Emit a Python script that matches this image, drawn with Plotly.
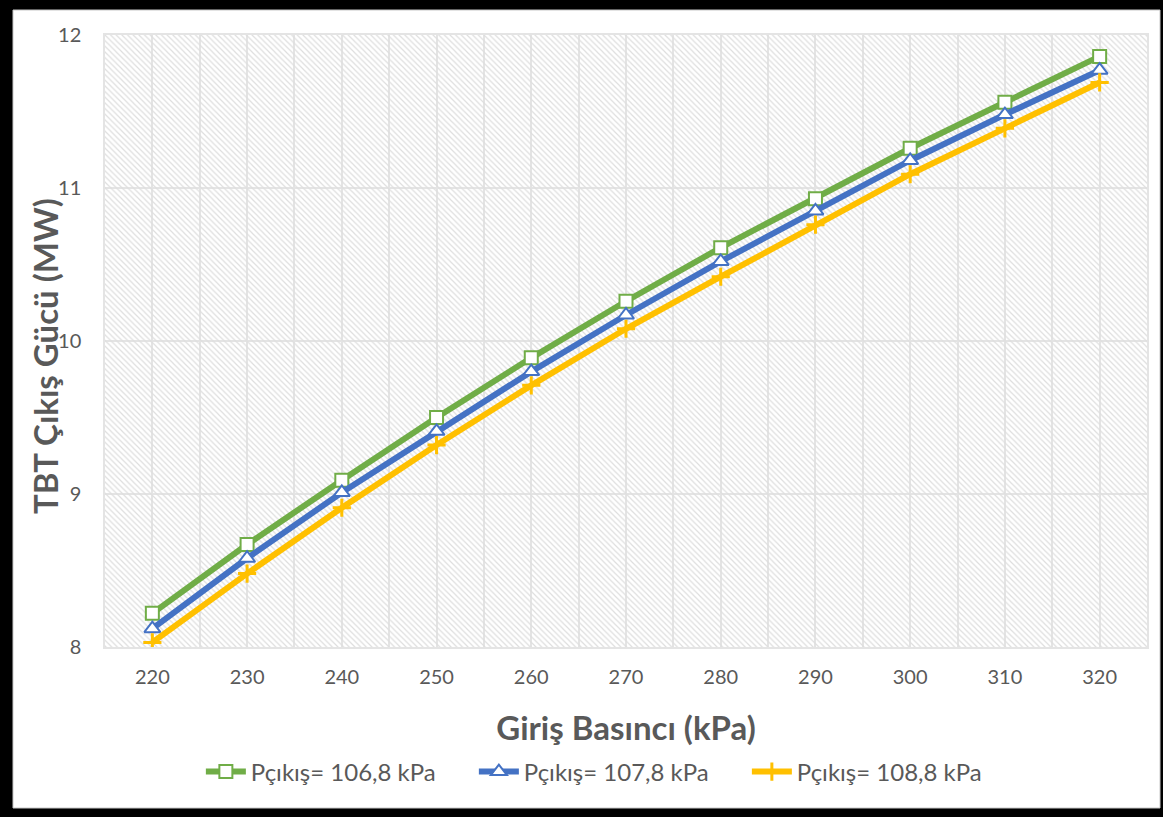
import plotly.graph_objects as go

# data
giris_basinci = [220, 230, 240, 250, 260, 270, 280, 290, 300, 310, 320]
guc_106_8 = [8.22, 8.67, 9.09, 9.50, 9.89, 10.26, 10.61, 10.93, 11.26, 11.56, 11.86]
guc_107_8 = [8.12, 8.58, 9.01, 9.41, 9.80, 10.17, 10.52, 10.85, 11.18, 11.48, 11.77]
guc_108_8 = [8.03, 8.48, 8.91, 9.32, 9.71, 10.08, 10.42, 10.76, 11.09, 11.39, 11.69]
series_names = ["Pçıkış= 106,8 kPa", "Pçıkış= 107,8 kPa", "Pçıkış= 108,8 kPa"]
y_ticks = [8, 9, 10, 11, 12]

W, H = 1163, 817
L, R, T, B = 105, 16, 35, 170
GRAY = "#595959"
FONT = "Lato"

step = giris_basinci[1] - giris_basinci[0]
x_lo = giris_basinci[0] - step / 2
x_hi = giris_basinci[-1] + step / 2
y_lo, y_hi = y_ticks[0], y_ticks[-1]
pw, ph = W - L - R, H - T - B


def px_x(px):
    return (px - L) / pw


def px_y(py):
    return (H - B - py) / ph


fig = go.Figure()

# hatched plot background
fig.add_trace(go.Bar(
    x=[(x_lo + x_hi) / 2], y=[y_hi - y_lo], base=[y_lo], width=[x_hi - x_lo],
    marker=dict(color="#dedede", line=dict(width=0),
                pattern=dict(shape="\\", size=4, solidity=0.3, fillmode="replace")),
    showlegend=False, hoverinfo="skip",
))

styles = [
    dict(color="#70AD47", symbol="square", size=13, mfill="white", mline=2),
    dict(color="#4472C4", symbol="triangle-up", size=14, mfill="white", mline=2),
    dict(color="#FFC000", symbol="cross-thin", size=13, mfill="#FFC000", mline=3),
]
for name, vals, st in zip(series_names, [guc_106_8, guc_107_8, guc_108_8], styles):
    fig.add_trace(go.Scatter(
        x=giris_basinci, y=vals, name=name, mode="lines+markers",
        line=dict(color=st["color"], width=6),
        marker=dict(symbol=st["symbol"], size=st["size"], color=st["mfill"],
                    line=dict(color=st["color"], width=st["mline"])),
    ))

minor_x = [x - step / 2 for x in giris_basinci]

fig.update_layout(
    width=W, height=H,
    margin=dict(l=L, r=R, t=T, b=B),
    paper_bgcolor="black",
    plot_bgcolor="rgba(0,0,0,0)",
    font=dict(family=FONT, color=GRAY),
    barmode="overlay",
    xaxis=dict(
        range=[x_lo, x_hi], tickvals=giris_basinci,
        ticktext=[str(v) for v in giris_basinci],
        tickfont=dict(size=20, color=GRAY), ticklabelstandoff=11,
        showgrid=True, gridcolor="#e4e4e4", gridwidth=1.5,
        minor=dict(tickvals=minor_x, showgrid=True, gridcolor="#e4e4e4", gridwidth=1.5),
        showline=True, linecolor="#e4e4e4", linewidth=1.5, mirror=True,
        zeroline=False, fixedrange=True,
        title=dict(text="<b>Giriş Basıncı (kPa)</b>", font=dict(size=33, color=GRAY), standoff=30),
    ),
    yaxis=dict(
        range=[y_lo, y_hi], tickvals=y_ticks,
        tickfont=dict(size=20, color=GRAY), ticklabelstandoff=18,
        showgrid=True, gridcolor="#e4e4e4", gridwidth=1.5,
        showline=True, linecolor="#e4e4e4", linewidth=1.5, mirror=True,
        zeroline=False, fixedrange=True,
    ),
    legend=dict(
        orientation="h", x=0.485, xanchor="center", y=px_y(772), yanchor="middle",
        font=dict(size=24, color=GRAY), bgcolor="rgba(0,0,0,0)", itemwidth=40,
        entrywidth=218,
    ),
    annotations=[
        dict(text="<b>TBT Çıkış Gücü (MW)</b>", textangle=-90, showarrow=False,
             xref="paper", yref="paper", x=px_x(45), y=px_y(356),
             xanchor="center", yanchor="middle", font=dict(size=33, color=GRAY)),
    ],
    shapes=[
        dict(type="rect", xref="paper", yref="paper", layer="below",
             x0=px_x(13), x1=px_x(1160), y0=px_y(808), y1=px_y(10),
             fillcolor="white", line=dict(color="#c8c8c8", width=1)),
    ],
)

fig.write_html("out.html", config={"displayModeBar": False},
               post_script="document.body.style.margin='0';")
